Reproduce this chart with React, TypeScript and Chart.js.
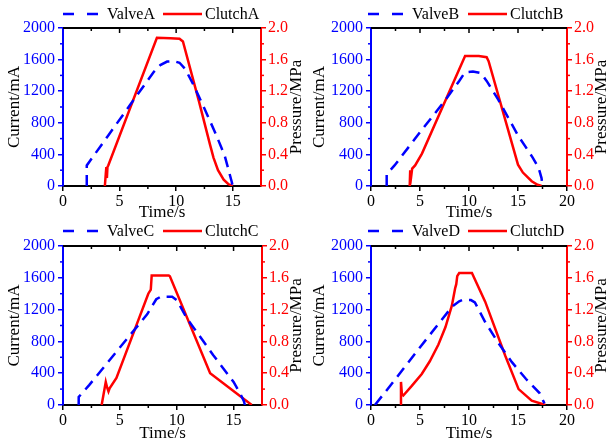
import React, { useEffect, useRef } from "react";
import { Chart, registerables } from "chart.js";
Chart.register(...registerables);

// ---------- data ----------
const valveA_t = [2.1, 2.1, 4.0, 6.0, 8.0, 8.6, 9.2, 9.8, 10.3, 10.8, 11.5, 12.5, 13.5, 14.3, 14.9, 15.0];
const valveA_mA = [0, 260, 640, 1040, 1440, 1530, 1575, 1580, 1560, 1480, 1290, 980, 660, 380, 60, 0];
const clutchA_t = [3.7, 3.78, 3.83, 3.88, 3.93, 4.0, 8.3, 9.5, 10.3, 10.6, 12.0, 13.0, 13.3, 13.7, 14.2, 14.6, 15.0];
const clutchA_MPa = [0, 0.15, 0.24, 0.1, 0.24, 0.26, 1.875, 1.87, 1.865, 1.83, 1.08, 0.52, 0.36, 0.2, 0.08, 0.025, 0];

const valveB_t = [1.6, 1.6, 2.4, 5.0, 7.6, 9.0, 9.6, 10.4, 11.2, 11.8, 13.0, 15.0, 16.5, 17.1, 17.4, 17.5];
const valveB_mA = [0, 150, 260, 680, 1090, 1330, 1440, 1450, 1430, 1330, 1090, 640, 360, 230, 100, 0];
const clutchB_t = [3.95, 4.0, 4.1, 4.2, 4.5, 5.2, 9.6, 11.0, 11.8, 12.0, 15.0, 15.5, 16.4, 17.0, 17.4];
const clutchB_MPa = [0, 0.2, 0.12, 0.22, 0.26, 0.41, 1.646, 1.645, 1.63, 1.58, 0.27, 0.17, 0.06, 0.015, 0];

const valveC_t = [1.38, 1.38, 2.3, 4.7, 7.4, 8.2, 8.6, 9.6, 10.0, 10.9, 13.2, 15.0, 15.6, 15.9, 16.0];
const valveC_mA = [0, 100, 250, 670, 1140, 1330, 1363, 1363, 1320, 1090, 630, 290, 140, 50, 0];
const clutchC_t = [3.4, 3.76, 3.88, 4.0, 4.1, 4.7, 7.5, 7.72, 7.8, 9.3, 9.4, 12.94, 16.6];
const clutchC_MPa = [0, 0.29, 0.22, 0.17, 0.21, 0.34, 1.4, 1.45, 1.63, 1.63, 1.62, 0.4, 0];

const valveD_t = [0.4, 2.1, 4.84, 8.25, 9.0, 9.3, 10.2, 10.6, 11.65, 13.0, 14.38, 15.8, 17.2, 17.7];
const valveD_mA = [0, 263, 700, 1234, 1305, 1320, 1320, 1290, 1044, 780, 539, 330, 150, 20];
const clutchD_t = [3.03, 3.06, 3.15, 3.3, 4.16, 5.18, 6.0, 6.88, 7.6, 8.25, 8.59, 8.7, 8.8, 9.0, 10.3, 11.65, 13.7, 15.06, 16.4, 17.8];
const clutchD_MPa = [0, 0.29, 0.14, 0.12, 0.24, 0.39, 0.55, 0.76, 0.98, 1.25, 1.47, 1.52, 1.62, 1.66, 1.66, 1.3, 0.62, 0.2, 0.055, 0];

const xTicksShort = [0, 5, 10, 15];
const xMinorShort = [2.5, 7.5, 12.5, 17.5];
const xTicksLong = [0, 5, 10, 15, 20];
const xMinorLong = [2.5, 7.5, 12.5, 17.5];
const currentTicks = [0, 400, 800, 1200, 1600, 2000];
const currentMinor = [200, 600, 1000, 1400, 1800];
const pressureTicks = [0, 0.4, 0.8, 1.2, 1.6, 2.0];
const pressureMinor = [0.2, 0.6, 1.0, 1.4, 1.8];

const FONT = '"Liberation Serif", "Times New Roman", serif';
const BLUE = "#0000ff";
const RED = "#ff0000";

type Panel = {
  name: string;
  vt: number[]; vi: number[]; ct: number[]; cp: number[];
  xMax: number; xTicks: number[]; xMinor: number[];
  left: number; top: number; w: number; h: number;
  leftW: number; rightW: number; topPad: number; bottomH: number;
  legendY: number; xTitleY: number;
};

const panels: Panel[] = [
  { name: "A", vt: valveA_t, vi: valveA_mA, ct: clutchA_t, cp: clutchA_MPa, xMax: 17.5, xTicks: xTicksShort, xMinor: xMinorShort,
    left: 0, top: 0, w: 305, h: 222, leftW: 63, rightW: 44, topPad: 28, bottomH: 36, legendY: 14, xTitleY: 213 },
  { name: "B", vt: valveB_t, vi: valveB_mA, ct: clutchB_t, cp: clutchB_MPa, xMax: 20, xTicks: xTicksLong, xMinor: xMinorLong,
    left: 305, top: 0, w: 305, h: 222, leftW: 66, rightW: 43, topPad: 28, bottomH: 36, legendY: 14, xTitleY: 213 },
  { name: "C", vt: valveC_t, vi: valveC_mA, ct: clutchC_t, cp: clutchC_MPa, xMax: 17.5, xTicks: xTicksShort, xMinor: xMinorShort,
    left: 0, top: 222, w: 305, h: 223, leftW: 63, rightW: 43, topPad: 24, bottomH: 40, legendY: 9, xTitleY: 212 },
  { name: "D", vt: valveD_t, vi: valveD_mA, ct: clutchD_t, cp: clutchD_MPa, xMax: 20, xTicks: xTicksLong, xMinor: xMinorLong,
    left: 305, top: 222, w: 305, h: 223, leftW: 66, rightW: 43, topPad: 24, bottomH: 40, legendY: 9, xTitleY: 212 },
];

const decorPlugin = {
  id: "decor",
  afterDraw(chart: any, _args: any, opts: any) {
    const { ctx, chartArea, scales } = chart;
    const { left, right, top, bottom } = chartArea;
    const x = scales.x, y = scales.y, y1 = scales.y1;
    const line = (x1: number, yA: number, x2: number, yB: number) => {
      ctx.beginPath(); ctx.moveTo(x1, yA); ctx.lineTo(x2, yB); ctx.stroke();
    };
    ctx.save();
    // top frame
    ctx.strokeStyle = "#000"; ctx.lineWidth = 2;
    line(left, top, right, top);
    ctx.lineWidth = 1.5;
    for (const v of opts.xTicks) { const px = x.getPixelForValue(v); if (px > left + 1 && px < right - 1) line(px, top, px, top + 5); }
    for (const v of opts.xMinor) {
      const px = x.getPixelForValue(v);
      if (px > left + 1 && px < right - 1) { line(px, top, px, top + 3); line(px, bottom, px, bottom + 3); }
    }
    ctx.strokeStyle = BLUE;
    for (const v of currentMinor) { const py = y.getPixelForValue(v); line(left - 3, py, left, py); }
    ctx.strokeStyle = RED;
    for (const v of pressureMinor) { const py = y1.getPixelForValue(v); line(right, py, right + 3, py); }

    // axis titles
    ctx.fillStyle = "#000";
    ctx.font = `17px ${FONT}`;
    ctx.textAlign = "center"; ctx.textBaseline = "middle";
    ctx.fillText("Time/s", (left + right) / 2, opts.xTitleY);
    const cy = (top + bottom) / 2;
    ctx.save(); ctx.translate(15, cy); ctx.rotate(-Math.PI / 2); ctx.fillText("Current/mA", 0, 0); ctx.restore();
    ctx.save(); ctx.translate(297, cy); ctx.rotate(-Math.PI / 2); ctx.fillText("Pressure/MPa", 0, 0); ctx.restore();

    // legend
    const ds = chart.data.datasets;
    const ly = opts.legendY;
    ctx.font = `16px ${FONT}`;
    ctx.textAlign = "left";
    ctx.lineWidth = 2.5;
    ctx.strokeStyle = ds[0].borderColor; ctx.setLineDash([11, 13]);
    line(63, ly, 98, ly);
    ctx.setLineDash([]);
    ctx.fillText(ds[0].label, 107, ly + 1);
    ctx.strokeStyle = ds[1].borderColor;
    line(163, ly, 202, ly);
    ctx.fillText(ds[1].label, 205, ly + 1);
    ctx.restore();
  },
};

function PanelChart({ p }: { p: Panel }) {
  const ref = useRef<HTMLCanvasElement>(null);
  useEffect(() => {
    const canvas = ref.current!;
    const chart = new Chart(canvas, {
      type: "line",
      data: {
        datasets: [
          {
            label: "Valve" + p.name,
            data: p.vt.map((t, i) => ({ x: t, y: p.vi[i] })),
            borderColor: BLUE, borderWidth: 2.5, borderDash: [11, 7],
            pointRadius: 0, yAxisID: "y", tension: 0,
          },
          {
            label: "Clutch" + p.name,
            data: p.ct.map((t, i) => ({ x: t, y: p.cp[i] })),
            borderColor: RED, borderWidth: 2.5,
            pointRadius: 0, yAxisID: "y1", tension: 0,
          },
        ],
      },
      options: {
        responsive: false,
        animation: false,
        devicePixelRatio: 1,
        layout: { padding: { top: p.topPad, left: 0, right: 0, bottom: 0 } },
        plugins: {
          legend: { display: false },
          tooltip: { enabled: false },
          decor: { xTicks: p.xTicks, xMinor: p.xMinor, legendY: p.legendY, xTitleY: p.xTitleY },
        } as any,
        scales: {
          x: {
            type: "linear", min: 0, max: p.xMax,
            afterBuildTicks: (s: any) => { s.ticks = p.xTicks.map((v) => ({ value: v })); },
            afterFit: (s: any) => { s.height = p.bottomH; },
            grid: { drawOnChartArea: false, drawTicks: true, tickLength: 5, color: "#000", lineWidth: 1.5 },
            border: { color: "#000", width: 2 },
            ticks: { color: "#000", font: { family: FONT, size: 16 }, padding: 1, maxRotation: 0, autoSkip: false,
              callback: (v: any) => String(v) },
          },
          y: {
            type: "linear", position: "left", min: 0, max: 2000,
            afterBuildTicks: (s: any) => { s.ticks = currentTicks.map((v) => ({ value: v })); },
            afterFit: (s: any) => { s.width = p.leftW; },
            grid: { drawOnChartArea: false, drawTicks: true, tickLength: 5, color: BLUE, lineWidth: 1.5 },
            border: { color: BLUE, width: 2 },
            ticks: { color: BLUE, font: { family: FONT, size: 16 }, padding: 3, autoSkip: false,
              callback: (v: any) => String(v) },
          },
          y1: {
            type: "linear", position: "right", min: 0, max: 2,
            afterBuildTicks: (s: any) => { s.ticks = pressureTicks.map((v) => ({ value: v })); },
            afterFit: (s: any) => { s.width = p.rightW; },
            grid: { drawOnChartArea: false, drawTicks: true, tickLength: 5, color: RED, lineWidth: 1.5 },
            border: { color: RED, width: 2 },
            ticks: { color: RED, font: { family: FONT, size: 16 }, padding: 2, autoSkip: false,
              callback: (v: any) => Number(v).toFixed(1) },
          },
        },
      },
      plugins: [decorPlugin],
    });
    return () => chart.destroy();
  }, [p]);
  return (
    <canvas
      ref={ref}
      width={p.w}
      height={p.h}
      style={{ position: "absolute", left: p.left, top: p.top, width: p.w, height: p.h, display: "block" }}
    />
  );
}

export default function App() {
  return (
    <div style={{ position: "fixed", left: 0, top: 0, width: 610, height: 445, background: "#fff", overflow: "hidden" }}>
      {panels.map((p) => (
        <PanelChart key={p.name} p={p} />
      ))}
    </div>
  );
}
